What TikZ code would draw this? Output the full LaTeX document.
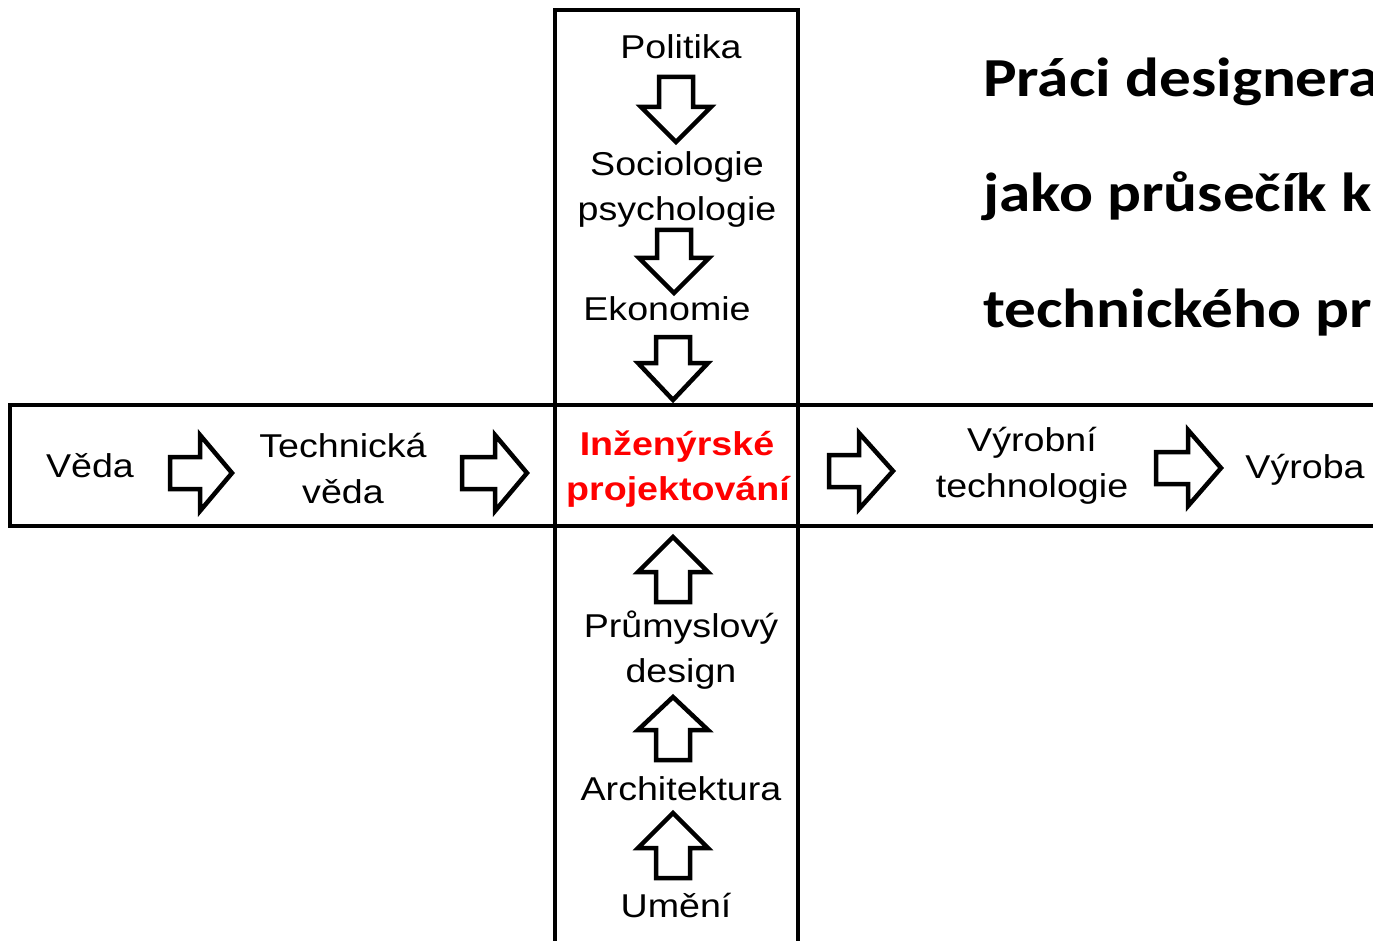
\documentclass[tikz,border=0pt]{standalone}
\usepackage{fontspec}
\setmainfont{Liberation Sans}[FakeStretch=1.14]
\newfontfamily\titlefont{Carlito}[FakeStretch=1.15]
\definecolor{accent}{RGB}{255,0,0}
\newcommand\dnArrow[4]{% cx, top, head y, tip y
  \draw[blockarrow] (#1-17,#2) -- (#1+17,#2) -- (#1+17,#3) -- (#1+35,#3) -- (#1,#4) -- (#1-35,#3) -- (#1-17,#3) -- cycle;}
\newcommand\upArrow[4]{% cx, tip y, head y, bottom
  \draw[blockarrow] (#1,#2) -- (#1+35,#3) -- (#1+17,#3) -- (#1+17,#4) -- (#1-17,#4) -- (#1-17,#3) -- (#1-35,#3) -- cycle;}
\newcommand\rtArrow[4]{% cy, left x, head x, tip x
  \draw[blockarrow] (#2,#1-16) -- (#3,#1-16) -- (#3,#1-38) -- (#4,#1) -- (#3,#1+38) -- (#3,#1+16) -- (#2,#1+16) -- cycle;}
\begin{document}
\begin{tikzpicture}[x=1pt,y=-1pt,
  frame/.style={draw=black,line width=4.5pt},
  blockarrow/.style={draw=black,fill=white,line width=4.5pt,line join=miter},
  lbl/.style={font=\fontsize{33}{40}\selectfont,inner sep=0pt,anchor=base},
  keylbl/.style={font=\fontsize{33}{40}\selectfont\bfseries,text=accent,inner sep=0pt,anchor=base},
  ttl/.style={font=\titlefont\fontsize{55}{60}\selectfont\bfseries,inner sep=0pt,anchor=base west}]
\useasboundingbox (0,0) rectangle (1373,941);
\clip (0,0) rectangle (1373,941);
\fill[white] (0,0) rectangle (1373,941);
% frames
\draw[frame] (555,10) rectangle (798,980);
\draw[frame] (10,405) rectangle (1420,526);
% top column
\node[lbl] (politika) at (681,59) {Politika};
\dnArrow{676}{77}{107}{142}
\node[lbl] (socio) at (677,176) {Sociologie};
\node[lbl] (psycho) at (677,221) {psychologie};
\dnArrow{674}{230}{258}{293}
\node[lbl] (ekonomie) at (667,320) {Ekonomie};
\dnArrow{673}{337}{363}{400}
% centre
\node[keylbl] (inz) at (677,455) {Inženýrské};
\node[keylbl] (proj) at (678,500) {projektování};
% bottom column
\upArrow{673}{537}{572}{602}
\node[lbl] (prum) at (681,637) {Průmyslový};
\node[lbl] (design) at (681,682) {design};
\upArrow{673}{697}{730}{760}
\node[lbl] (arch) at (681,800) {Architektura};
\upArrow{673}{813}{848}{878}
\node[lbl] (umeni) at (676,917) {Umění};
% row
\node[lbl] (veda) at (90,477) {Věda};
\rtArrow{473}{170}{200}{232}
\node[lbl] (tech) at (343,457) {Technická};
\node[lbl] (tveda) at (343,503) {věda};
\rtArrow{473}{462}{495}{527}
\rtArrow{471}{829}{859}{893}
\node[lbl] (vyrt) at (1032,451) {Výrobní};
\node[lbl] (vyrt2) at (1032,497) {technologie};
\rtArrow{468}{1156}{1188}{1221}
\node[lbl] (vyroba) at (1305,478) {Výroba};
% title
\node[ttl] (t1) at (983,97) {Práci designera};
\node[ttl] (t2) at (983,212) {jako průsečík k};
\node[ttl] (t3) at (983,327) {technického pr};
\end{tikzpicture}
\end{document}
